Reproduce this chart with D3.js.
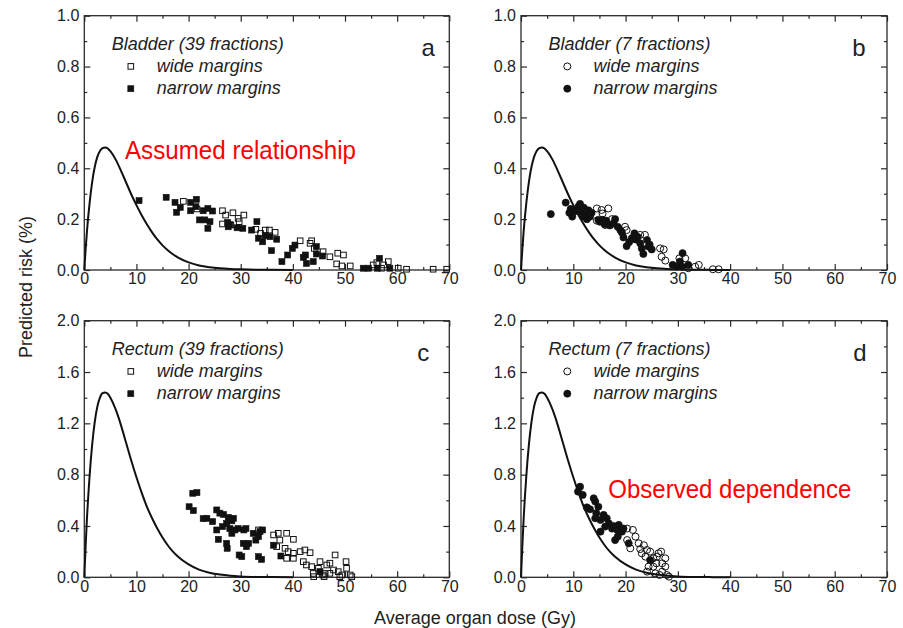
<!DOCTYPE html>
<html><head><meta charset="utf-8">
<script src="https://cdn.jsdelivr.net/npm/d3@7"></script>
<style>
body{margin:0;background:#fff}
svg{display:block}
text{font-family:"Liberation Sans",Arial,Helvetica,sans-serif;fill:#222}
</style>
</head><body>
<svg id="chart" width="903" height="628"></svg>
<script>
// ---------- data ----------
const xTickValues = [0, 10, 20, 30, 40, 50, 60, 70];
const bladderYTicks = [0, 0.2, 0.4, 0.6, 0.8, 1.0];
const rectumYTicks = [0, 0.4, 0.8, 1.2, 1.6, 2.0];
const panelLetters = ["a", "b", "c", "d"];
const panelTitles = ["Bladder (39 fractions)", "Bladder (7 fractions)", "Rectum (39 fractions)", "Rectum (7 fractions)"];
const legendLabels = ["wide margins", "narrow margins"];
const annotationTexts = ["Assumed relationship", "Observed dependence"];
const xTitle = "Average organ dose (Gy)";
const yTitle = "Predicted risk (%)";

// assumed dose-risk relationship
const curveDose = [0, 0.25, 0.5, 1, 1.5, 2, 2.5, 3, 3.5, 4, 4.5, 5, 6, 7, 8, 9, 10, 11, 12, 13, 14, 15, 16, 17, 18, 20, 22, 24, 26, 28, 30, 33, 36, 40];
const bladderCurveRisk = [0, 0.08, 0.15, 0.26, 0.345, 0.405, 0.445, 0.468, 0.479, 0.482, 0.478, 0.467, 0.435, 0.392, 0.345, 0.298, 0.255, 0.215, 0.18, 0.148, 0.12, 0.097, 0.078, 0.062, 0.049, 0.03, 0.018, 0.011, 0.0065, 0.004, 0.0025, 0.001, 0.0005, 0];
const rectumCurveRisk = [0, 0.24, 0.45, 0.78, 1.03, 1.21, 1.33, 1.40, 1.435, 1.44, 1.43, 1.40, 1.31, 1.19, 1.05, 0.91, 0.78, 0.66, 0.55, 0.46, 0.38, 0.31, 0.25, 0.2, 0.16, 0.1, 0.06, 0.036, 0.021, 0.012, 0.007, 0.003, 0.0015, 0];

// [dose (Gy), predicted risk (%)]
const bladder39Wide = [[19.0,0.27],[21.6,0.24],[26.5,0.233],[27.1,0.216],[28.5,0.225],[26.5,0.181],[28.1,0.177],[29.5,0.203],[29.7,0.19],[30.6,0.216],[32.9,0.16],[33.8,0.144],[34.7,0.157],[35.5,0.157],[36.6,0.148],[41.4,0.115],[43.3,0.105],[43.6,0.115],[44.1,0.085],[45.8,0.072],[47.1,0.052],[48.6,0.066],[49.7,0.059],[48.4,0.024],[49.4,0.016],[51.0,0.016],[55.4,0.02],[56.1,0.029],[57.4,0.02],[58.3,0.033],[57.0,0.007],[60.2,0.007],[61.8,0.003],[66.9,0.003],[69.5,0.003]];
const bladder39Narrow = [[10.5,0.273],[15.7,0.286],[17.4,0.266],[17.7,0.227],[18.4,0.246],[20.4,0.266],[20.4,0.233],[21.5,0.278],[21.4,0.249],[22.1,0.197],[22.8,0.233],[23.1,0.197],[23.7,0.242],[23.7,0.164],[24.1,0.19],[24.6,0.232],[27.5,0.187],[27.6,0.17],[27.9,0.178],[29.3,0.166],[30.4,0.164],[32.1,0.157],[33.1,0.19],[33.4,0.125],[34.2,0.111],[34.7,0.135],[35.6,0.131],[35.9,0.076],[36.9,0.121],[37.9,0.033],[39.0,0.059],[39.9,0.085],[40.4,0.098],[42.0,0.05],[42.6,0.026],[42.4,0.059],[43.9,0.033],[44.5,0.092],[44.5,0.063],[45.7,0.055],[53.5,0.007],[54.5,0.007],[56.2,0.007],[56.6,0.046],[58.6,0.007]];
const bladder7Wide = [[10.6,0.24],[14.5,0.242],[15.4,0.236],[16.7,0.242],[14.5,0.194],[16.1,0.177],[17.4,0.2],[15.6,0.222],[19.9,0.17],[20.2,0.157],[22.8,0.138],[23.7,0.138],[26.6,0.085],[27.3,0.081],[26.9,0.052],[27.6,0.037],[30.3,0.046],[31.4,0.046],[32.0,0.007],[33.3,0.013],[34.0,0.02],[36.7,0.003],[37.8,0.003]];
const bladder7Narrow = [[5.7,0.22],[8.55,0.265],[9.25,0.225],[9.5,0.24],[9.8,0.21],[10.2,0.23],[11.0,0.25],[11.3,0.26],[11.5,0.23],[11.9,0.21],[12.0,0.245],[12.4,0.22],[12.6,0.2],[12.9,0.235],[13.2,0.21],[13.5,0.225],[14.8,0.197],[15.1,0.19],[15.6,0.197],[16.0,0.18],[16.3,0.194],[17.0,0.175],[17.7,0.183],[18.0,0.2],[18.5,0.17],[19.0,0.157],[19.3,0.147],[19.6,0.128],[20.2,0.094],[20.7,0.11],[21.2,0.125],[21.7,0.144],[21.9,0.12],[22.3,0.13],[22.8,0.105],[23.1,0.085],[23.4,0.063],[24.1,0.118],[24.4,0.092],[24.6,0.1],[25.0,0.081],[29.0,0.02],[29.8,0.013],[30.4,0.033],[30.9,0.066],[30.8,0.013],[32.0,0.02]];
const rectum39Wide = [[33.4,0.369],[36.3,0.33],[37.2,0.343],[37.5,0.29],[38.8,0.343],[40.1,0.296],[36.9,0.239],[38.5,0.226],[39.1,0.2],[40.1,0.187],[41.4,0.2],[42.3,0.213],[43.3,0.192],[38.8,0.148],[40.1,0.148],[42.0,0.122],[42.6,0.096],[43.6,0.083],[43.9,0.03],[44.9,0.07],[45.2,0.122],[46.5,0.096],[47.1,0.11],[48.1,0.174],[47.1,0.031],[48.7,0.044],[49.4,0.018],[50.2,0.122],[50.3,0.07],[51.0,0.018],[51.3,0.005],[49.0,0.005],[45.8,0.018],[46.2,0.03],[47.8,0.057],[44.0,0.005],[46.0,0.005]];
const rectum39Narrow = [[20.1,0.55],[20.9,0.52],[20.8,0.655],[21.6,0.66],[22.8,0.457],[23.5,0.46],[24.6,0.434],[25.4,0.525],[26.0,0.50],[25.4,0.369],[25.7,0.296],[26.5,0.395],[26.7,0.49],[27.3,0.42],[27.6,0.467],[27.9,0.38],[28.3,0.44],[28.6,0.46],[27.3,0.265],[27.4,0.226],[28.3,0.343],[28.9,0.369],[29.5,0.38],[29.7,0.174],[30.2,0.161],[30.5,0.265],[30.6,0.369],[31.0,0.38],[31.1,0.239],[31.5,0.265],[32.4,0.343],[32.9,0.29],[33.4,0.317],[33.7,0.356],[34.2,0.369],[33.4,0.161],[34.0,0.14],[36.3,0.25],[37.7,0.166],[45.2,0.044]];
const rectum7Wide = [[20.3,0.38],[21.4,0.369],[21.9,0.317],[20.3,0.29],[20.9,0.226],[22.5,0.265],[23.5,0.25],[24.1,0.213],[23.1,0.187],[23.8,0.161],[24.7,0.2],[25.3,0.148],[26.0,0.161],[26.3,0.187],[27.0,0.109],[27.6,0.148],[25.9,0.109],[25.3,0.083],[24.4,0.083],[24.1,0.044],[25.7,0.031],[27.0,0.044],[27.9,0.018],[27.6,0.083],[28.3,0.005],[26.5,0.018],[22.8,0.22],[26.8,0.2]];
const rectum7Narrow = [[10.9,0.668],[11.3,0.706],[11.8,0.642],[12.6,0.545],[13.2,0.53],[13.9,0.616],[14.2,0.59],[14.8,0.55],[14.4,0.5],[14.2,0.46],[15.2,0.447],[15.8,0.486],[16.4,0.46],[15.2,0.356],[16.1,0.395],[16.8,0.42],[17.4,0.38],[17.7,0.4],[18.4,0.369],[18.7,0.408],[19.3,0.356],[19.6,0.38],[18.0,0.29],[18.5,0.317],[20.6,0.265],[24.7,0.135]];

// ---------- layout ----------
const svg = d3.select("#chart");
const panels = [
  {x0:84.3, x1:449.3, yTop:15.7, yBot:270, yMax:1.0, yTicks:bladderYTicks, minorStep:0.1, curve:bladderCurveRisk, wide:bladder39Wide, narrow:bladder39Narrow, shape:"square", title:panelTitles[0], letter:panelLetters[0], letterDx:-21},
  {x0:521,  x1:887,   yTop:15.7, yBot:270, yMax:1.0, yTicks:bladderYTicks, minorStep:0.1, curve:bladderCurveRisk, wide:bladder7Wide, narrow:bladder7Narrow, shape:"circle", title:panelTitles[1], letter:panelLetters[1], letterDx:-28},
  {x0:84.3, x1:449.3, yTop:320.7, yBot:577.3, yMax:2.0, yTicks:rectumYTicks, minorStep:0.2, curve:rectumCurveRisk, wide:rectum39Wide, narrow:rectum39Narrow, shape:"square", title:panelTitles[2], letter:panelLetters[2], letterDx:-26},
  {x0:521,  x1:887,   yTop:320.7, yBot:577.3, yMax:2.0, yTicks:rectumYTicks, minorStep:0.2, curve:rectumCurveRisk, wide:rectum7Wide, narrow:rectum7Narrow, shape:"circle", title:panelTitles[3], letter:panelLetters[3], letterDx:-27}
];

const axisColor = "#2a2a2a";
const markColor = "#111";
const tickFont = 16;

function drawMarker(sel, shape, filled, size) {
  if (shape === "square") {
    sel.append("rect")
      .attr("x", d => d[0] - size/2).attr("y", d => d[1] - size/2)
      .attr("width", size).attr("height", size)
      .attr("fill", filled ? markColor : "none")
      .attr("stroke", markColor).attr("stroke-width", filled ? 0.6 : 1);
  } else {
    sel.append("circle")
      .attr("cx", d => d[0]).attr("cy", d => d[1]).attr("r", size/2)
      .attr("fill", filled ? markColor : "none")
      .attr("stroke", markColor).attr("stroke-width", filled ? 0.6 : 1);
  }
}

panels.forEach((p, i) => {
  const x = d3.scaleLinear().domain([0, 70]).range([p.x0, p.x1]);
  const y = d3.scaleLinear().domain([0, p.yMax]).range([p.yBot, p.yTop]);
  const g = svg.append("g");
  const minorX = d3.range(5, 70, 10);
  const minorY = d3.range(p.minorStep, p.yMax - 1e-9, p.minorStep).filter(v => !p.yTicks.some(t => Math.abs(t - v) < 1e-9));

  const styleAxis = sel => {
    sel.select(".domain").remove();
    sel.selectAll(".tick line").attr("stroke", axisColor).attr("stroke-width", 1.2);
    sel.selectAll(".tick text").attr("font-size", tickFont).attr("fill", "#222")
      .attr("font-family", '"Liberation Sans",Arial,sans-serif');
  };

  // major + minor ticks on all four sides (inward)
  g.append("g").attr("transform", `translate(0,${p.yBot})`)
    .call(d3.axisBottom(x).tickValues(xTickValues).tickFormat(d3.format("d")).tickSize(-6).tickPadding(3)).call(styleAxis);
  g.append("g").attr("transform", `translate(0,${p.yBot})`)
    .call(d3.axisBottom(x).tickValues(minorX).tickFormat("").tickSize(-3)).call(styleAxis);
  g.append("g").attr("transform", `translate(0,${p.yTop})`)
    .call(d3.axisTop(x).tickValues(xTickValues).tickFormat("").tickSize(-6)).call(styleAxis);
  g.append("g").attr("transform", `translate(0,${p.yTop})`)
    .call(d3.axisTop(x).tickValues(minorX).tickFormat("").tickSize(-3)).call(styleAxis);
  g.append("g").attr("transform", `translate(${p.x0},0)`)
    .call(d3.axisLeft(y).tickValues(p.yTicks).tickFormat(d3.format(".1f")).tickSize(-6).tickPadding(5)).call(styleAxis);
  g.append("g").attr("transform", `translate(${p.x0},0)`)
    .call(d3.axisLeft(y).tickValues(minorY).tickFormat("").tickSize(-3)).call(styleAxis);
  g.append("g").attr("transform", `translate(${p.x1},0)`)
    .call(d3.axisRight(y).tickValues(p.yTicks).tickFormat("").tickSize(-6)).call(styleAxis);
  g.append("g").attr("transform", `translate(${p.x1},0)`)
    .call(d3.axisRight(y).tickValues(minorY).tickFormat("").tickSize(-3)).call(styleAxis);

  // frame
  g.append("rect").attr("x", p.x0).attr("y", p.yTop)
    .attr("width", p.x1 - p.x0).attr("height", p.yBot - p.yTop)
    .attr("fill", "none").attr("stroke", axisColor).attr("stroke-width", 1.3);

  // assumed relationship curve
  const line = d3.line().x((d, k) => x(curveDose[k])).y(d => y(d)).curve(d3.curveMonotoneX);
  g.append("path").datum(p.curve).attr("d", line)
    .attr("fill", "none").attr("stroke", "#111").attr("stroke-width", 2);

  // scatter
  const size = p.shape === "square" ? 6 : 7.2;
  const wideSel = g.append("g").selectAll("g").data(p.wide.map(d => [x(d[0]), y(d[1])])).join("g");
  drawMarker(wideSel, p.shape, false, p.shape === "square" ? 5.6 : 7);
  const narrowSel = g.append("g").selectAll("g").data(p.narrow.map(d => [x(d[0]), y(d[1])])).join("g");
  drawMarker(narrowSel, p.shape, true, size);

  // legend
  const lx = p.x0 + 27.4;
  g.append("text").attr("x", lx).attr("y", p.yTop + 34.3)
    .attr("font-size", 18).attr("font-style", "italic").text(p.title);
  const symX = p.x0 + (p.shape === "square" ? 46.5 : 46.3);
  const legData = [[symX, p.yTop + 50.7], [symX, p.yTop + 73]];
  drawMarker(g.append("g").selectAll("g").data([legData[0]]).join("g"), p.shape, false, p.shape === "square" ? 5.6 : 7);
  drawMarker(g.append("g").selectAll("g").data([legData[1]]).join("g"), p.shape, true, size);
  g.append("text").attr("x", p.x0 + 72.4).attr("y", p.yTop + 56).attr("font-size", 18).attr("font-style", "italic").text(legendLabels[0]);
  g.append("text").attr("x", p.x0 + 72.4).attr("y", p.yTop + 78.3).attr("font-size", 18).attr("font-style", "italic").text(legendLabels[1]);

  // panel letter
  g.append("text").attr("x", p.x1 + p.letterDx).attr("y", p.yTop + 40.5)
    .attr("text-anchor", "middle").attr("font-size", 24).text(p.letter);
});

// axis titles
svg.append("text").attr("transform", "translate(32,287) rotate(-90)")
  .attr("text-anchor", "middle").attr("font-size", 18).text(yTitle);
svg.append("text").attr("x", 475).attr("y", 624)
  .attr("text-anchor", "middle").attr("font-size", 18).text(xTitle);

// red annotations
svg.append("text").attr("x", 125).attr("y", 159.3)
  .attr("font-family", "Lato, 'Open Sans', sans-serif").attr("font-size", 25)
  .attr("textLength", 231).attr("lengthAdjust", "spacingAndGlyphs")
  .style("fill", "#ff0000").text(annotationTexts[0]);
svg.append("text").attr("x", 608.3).attr("y", 498.3)
  .attr("font-family", "Lato, 'Open Sans', sans-serif").attr("font-size", 25)
  .attr("textLength", 243).attr("lengthAdjust", "spacingAndGlyphs")
  .style("fill", "#ff0000").text(annotationTexts[1]);
</script>
</body></html>
